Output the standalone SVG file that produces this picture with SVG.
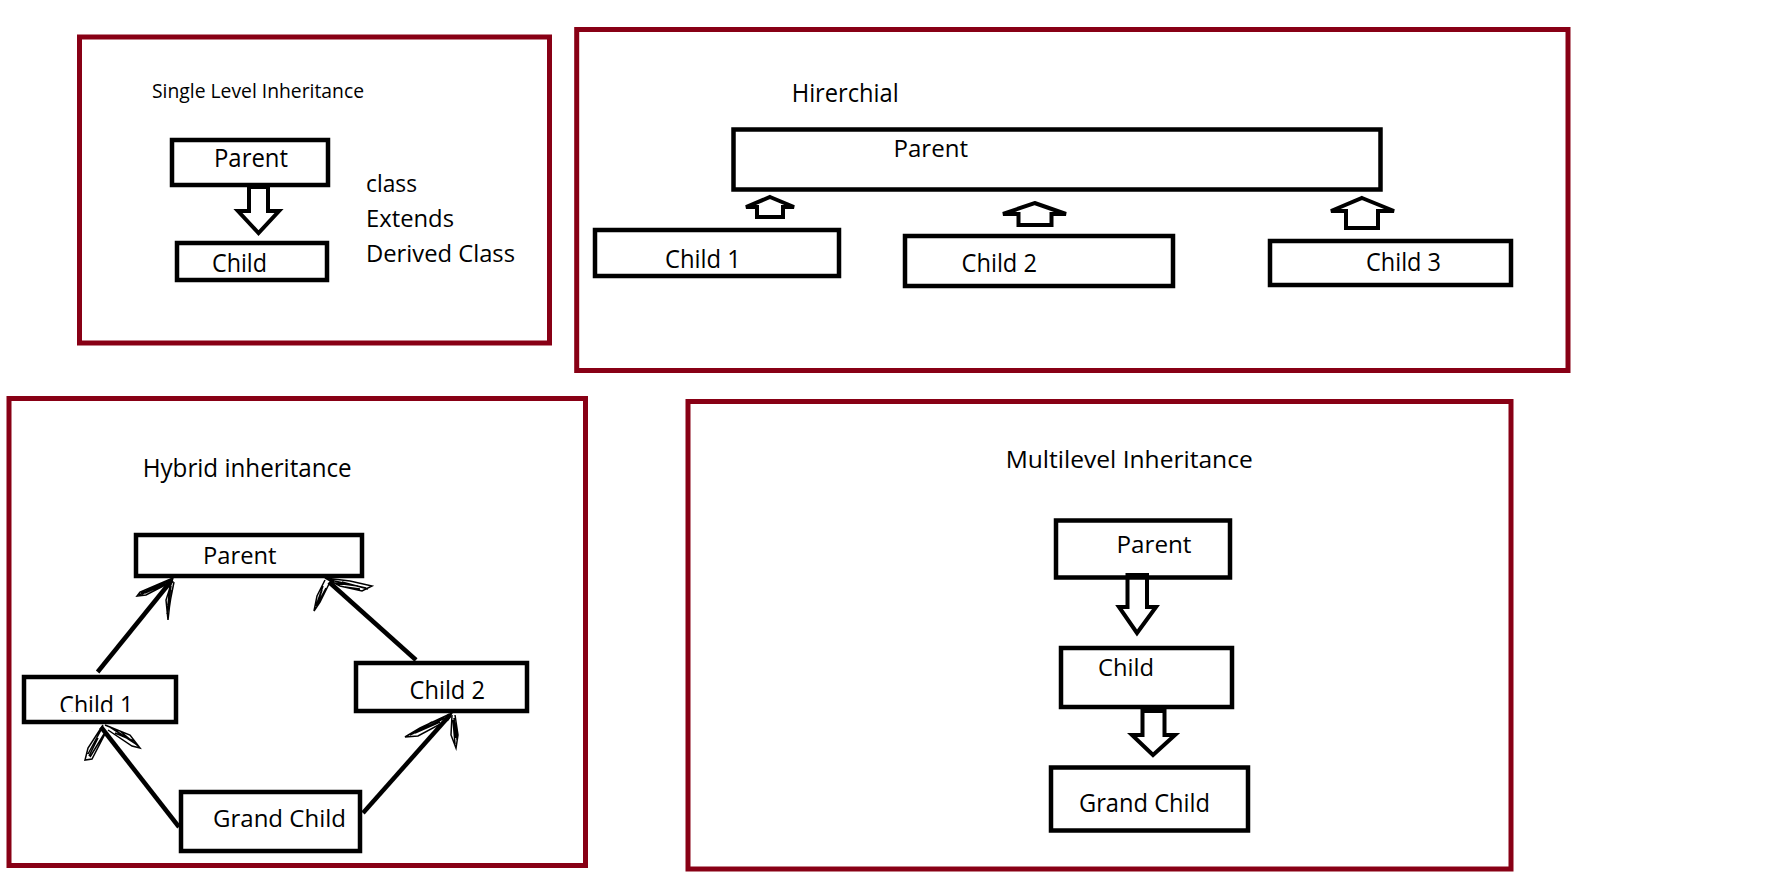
<svg xmlns="http://www.w3.org/2000/svg" width="1790" height="890" viewBox="0 0 1790 890">
<style>
.frame{fill:none;stroke:#880015;stroke-width:5}
.box{fill:none;stroke:#000;stroke-width:4.5}
.harrow{fill:none;stroke:#000;stroke-width:4;stroke-linejoin:miter}
.conn{stroke:#000;stroke-width:4.5;fill:none}
.scr{stroke:#000;stroke-width:1.5;fill:none}
text{font-family:"Open Sans","Noto Sans","Liberation Sans",sans-serif;fill:#000}
</style>
<defs>
<clipPath id="c1clip"><rect x="40" y="680" width="130" height="32"/></clipPath>
</defs>
<rect width="1790" height="890" fill="#fff"/>

<g id="single-level">
<rect class="frame" x="79.5" y="37" width="470" height="306"/>
<text x="152" y="98" font-size="20" textLength="212" lengthAdjust="spacingAndGlyphs">Single Level Inheritance</text>
<text x="366" y="192" font-size="24" textLength="51" lengthAdjust="spacingAndGlyphs">class</text>
<text x="366" y="227" font-size="24" textLength="88" lengthAdjust="spacingAndGlyphs">Extends</text>
<text x="366" y="262" font-size="24" textLength="149" lengthAdjust="spacingAndGlyphs">Derived Class</text>
</g>
<g id="sl-parent">
<rect class="box" x="172" y="140" width="156" height="45"/>
<text x="214" y="167" font-size="26" textLength="74" lengthAdjust="spacingAndGlyphs">Parent</text>
</g>
<g id="sl-child">
<rect class="box" x="177" y="243" width="150" height="37"/>
<text x="212" y="272" font-size="26" textLength="55" lengthAdjust="spacingAndGlyphs">Child</text>
</g>

<g id="hierarchical">
<rect class="frame" x="576.7" y="29.5" width="991.3" height="341"/>
<text x="791.7" y="102" font-size="25" textLength="107" lengthAdjust="spacingAndGlyphs">Hirerchial</text>
</g>
<g id="h-parent">
<rect class="box" x="733.5" y="129.5" width="647" height="60"/>
<text x="893.5" y="157" font-size="23" textLength="74.5" lengthAdjust="spacingAndGlyphs">Parent</text>
</g>
<g id="h-child1">
<rect class="box" x="595" y="230" width="244" height="46"/>
<text x="665" y="268" font-size="25" textLength="76" lengthAdjust="spacingAndGlyphs">Child 1</text>
</g>
<g id="h-child2">
<rect class="box" x="905" y="236" width="268" height="50"/>
<text x="961.5" y="272" font-size="25" textLength="75.5" lengthAdjust="spacingAndGlyphs">Child 2</text>
</g>
<g id="h-child3">
<rect class="box" x="1270" y="241" width="241" height="44"/>
<text x="1366" y="271" font-size="25" textLength="75" lengthAdjust="spacingAndGlyphs">Child 3</text>
</g>

<g id="hybrid">
<rect class="frame" x="9" y="398.5" width="576.5" height="467"/>
<text x="142.7" y="477" font-size="25" textLength="209" lengthAdjust="spacingAndGlyphs">Hybrid inheritance</text>
</g>
<g id="hy-parent">
<rect class="box" x="136" y="535" width="226" height="41"/>
<text x="203" y="564" font-size="24" textLength="73.5" lengthAdjust="spacingAndGlyphs">Parent</text>
</g>
<g id="hy-child1">
<rect class="box" x="24" y="677" width="152" height="45"/>
<text x="59.3" y="714" font-size="25" textLength="74" lengthAdjust="spacingAndGlyphs" clip-path="url(#c1clip)">Child 1</text>
</g>
<g id="hy-child2">
<rect class="box" x="356" y="663" width="171" height="48"/>
<text x="409.5" y="699" font-size="25" textLength="75.5" lengthAdjust="spacingAndGlyphs">Child 2</text>
</g>
<g id="hy-grandchild">
<rect class="box" x="181" y="792" width="179" height="59"/>
<text x="213" y="827" font-size="24" textLength="133" lengthAdjust="spacingAndGlyphs">Grand Child</text>
</g>

<g id="multilevel">
<rect class="frame" x="688" y="401.5" width="823" height="467.5"/>
<text x="1005.7" y="468" font-size="23" textLength="247" lengthAdjust="spacingAndGlyphs">Multilevel Inheritance</text>
</g>
<g id="ml-parent">
<rect class="box" x="1056" y="520.5" width="174" height="57"/>
<text x="1116.5" y="553" font-size="23" textLength="75" lengthAdjust="spacingAndGlyphs">Parent</text>
</g>
<g id="ml-child">
<rect class="box" x="1061" y="648" width="171" height="59"/>
<text x="1098" y="676" font-size="24" textLength="56" lengthAdjust="spacingAndGlyphs">Child</text>
</g>
<g id="ml-grandchild">
<rect class="box" x="1051" y="767.5" width="197" height="63"/>
<text x="1079" y="811.7" font-size="25" textLength="131" lengthAdjust="spacingAndGlyphs">Grand Child</text>
</g>

<g id="connectors">
<polygon class="harrow" points="249,187 268,187 268,211 279,211 258.5,233 238,211 249,211"/>
<polygon class="harrow" stroke-width="3.5" points="770,197 794,207 783,207 783,217 757,217 757,207 746,207"/>
<polygon class="harrow" stroke-width="3.5" points="1034.6,203 1066,214 1051.5,214 1051.5,225 1018.5,225 1018.5,214 1003,214"/>
<polygon class="harrow" stroke-width="3.5" points="1362,198 1394,211 1378,211 1378,228 1346,228 1346,211 1331,211"/>
<polygon class="harrow" points="1127.5,575 1147,575 1147,607 1156,607 1137,633 1119,607 1127.5,607"/>
<polygon class="harrow" points="1142.5,711 1164.5,711 1164.5,735 1175,735 1153,755 1132,735 1142.5,735"/>
<line class="conn" x1="97.6" y1="672" x2="172" y2="580"/>
<line class="conn" x1="416" y1="660" x2="329" y2="582"/>
<line class="conn" x1="179" y1="827" x2="101" y2="727"/>
<line class="conn" x1="363" y1="813" x2="450" y2="715"/>
<path class="scr" d="M173,578 L140,592 L137,596 L146,595 L171,582 M172,580 L150,590 M168,581 L142,594 M160,584 L139,595 M165,584 L145,593 M156,588 L141,593"/>
<path class="scr" d="M173,578 L166,600 L168,620 L170,602 L174,582 M171,586 L167,614 M172,590 L169,610 M170,584 L168,605"/>
<path class="scr" d="M325,578 L350,581 L372,586 L362,591 L340,586 Z M330,580 L366,588 M335,583 L358,586 M342,582 L368,589 M345,587 L360,589"/>
<path class="scr" d="M325,580 L317,596 L314,611 L320,602 L329,584 M323,586 L316,606 M326,588 L318,603 M322,590 L317,605"/>
<path class="scr" d="M103,725 L88,748 L85,760 L92,759 L106,732 M101,730 L88,754 M104,734 L90,757 M98,738 L89,756"/>
<path class="scr" d="M105,725 L130,735 L140,748 L132,746 L108,730 M110,727 L136,744 M115,733 L134,741 M120,731 L138,746"/>
<path class="scr" d="M452,713 L420,728 L405,737 L418,736 L448,720 Z M445,718 L412,734 M440,722 L415,733 M432,722 L410,735"/>
<path class="scr" d="M452,715 L451,735 L456,748 L458,735 L455,715 M453,720 L455,744 M456,722 L457,740 M454,718 L456,738"/>
</g>
</svg>
